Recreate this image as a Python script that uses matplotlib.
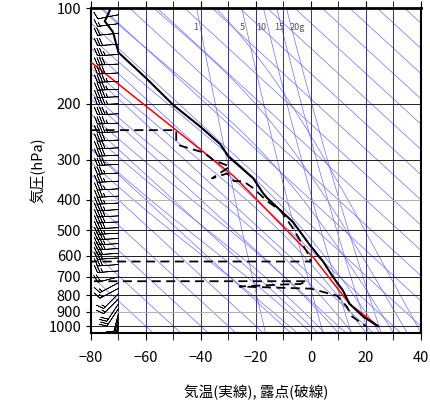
import numpy as np
import matplotlib
matplotlib.use("Agg")
from matplotlib import pyplot as plt

plt.rcParams['font.family'] = ['Noto Sans CJK JP', 'DejaVu Sans']

# temperature profile (solid)
temp_p = [101, 110, 119, 138, 166, 202, 237, 268, 293, 343, 381, 395, 471, 556, 626, 700, 772, 850, 933, 1000]
temp_t = [-73, -75, -72, -70, -60, -50, -40, -33, -30, -21, -17.5, -16, -6.5, -0.4, 4.4, 8, 11.6, 14, 19, 24.4]

# dew point profile (dashed), -80 marks missing values
dew_p = [242, 242, 260, 270, 283, 289, 300, 315, 343, 331, 350, 350, 368, 404, 434, 493, 583, 626, 626,
         722, 722, 737, 737, 750, 762, 802, 867, 933, 1000]
dew_t = [-80, -49, -49, -48, -40, -38, -35.6, -29.5, -36, -30.5, -28, -24.7, -21, -16, -11, -6.5, -1.5, 0, -80,
         -80, -1.5, -4, -6.5, -26, 0, 9.5, 13, 15, 20]

# parcel path (red)
parcel_p = [1000, 850, 610, 338, 148]
parcel_t = [24.5, 14, 1, -28, -80]

# winds (knots, mostly westerly)
wind_p = [105, 112, 120, 130, 140, 150, 160, 170, 180, 190, 200, 215, 230, 245, 260, 275, 290, 310, 330,
          350, 370, 390, 410, 430, 450, 470, 490, 510, 530, 550, 570, 590, 610, 640, 670, 700, 730, 760,
          790, 820, 850, 880, 910, 940, 970, 1000]
wind_u = [10, 15, 20, 30, 35, 40, 40, 45, 45, 45, 45, 45, 45, 45, 40, 40, 40, 40, 35,
          35, 35, 35, 35, 35, 40, 40, 40, 35, 35, 35, 35, 30, 30, 30, 25, 20, 15, 15,
          10, 10, 10, 10, 5, 5, 5, 5]
wind_v = [2, 2, 2, 2, 2, 2, 2, 2, 2, 2, 2, 2, 2, 2, 2, 2, 2, 2, 2,
          2, 2, 2, 2, 2, 2, 2, 2, 2, 2, 2, 2, 2, 2, 2, 2, 5, 8, 8,
          10, 10, 15, 15, 20, 20, 25, 25]

mix_ratios = [1, 5, 10, 15, 20]

fig = plt.figure(figsize=(4.31, 4.08), dpi=100)
ax = fig.add_axes([91 / 431, 1 - 333 / 408, 330 / 431, 325 / 408])
ax.set_yscale('log')
ax.set_xlim(-80, 40)
ax.set_ylim(1050, 100)

pp = np.linspace(100, 1050, 200)
line_col = '#6e6eff'

# dry adiabats (straight on this chart)
for t0 in range(-60, 170, 10):
    t = t0 - 126 * np.log10(1000 / pp)
    ax.plot(t, pp, color=line_col, lw=0.5, zorder=1)


# moist adiabats
def es(tc):
    return 6.112 * np.exp(17.67 * tc / (tc + 243.5))


def moist_lapse(t0):
    ps = np.linspace(1050, 100, 300)
    ts = [t0]
    for i in range(1, len(ps)):
        tc = ts[-1]
        tk = tc + 273.15
        p = ps[i - 1]
        rs = 0.622 * es(tc) / (p - es(tc))
        dtdp = (287 * tk + 2.5e6 * rs) / (1004 + 2.5e6 ** 2 * rs * 0.622 / (287 * tk ** 2)) / p
        ts.append(tc + dtdp * (ps[i] - p))
    return np.array(ts), ps


for t0 in range(-5, 45, 5):
    ts, ps = moist_lapse(t0)
    ax.plot(ts, ps, color=line_col, lw=0.5, zorder=1)

# mixing ratio lines
for w in mix_ratios:
    e = w * pp / (622 + w)
    lne = np.log(e / 6.112)
    td = 243.5 * lne / (17.67 - lne)
    ax.plot(td, pp, color=line_col, lw=0.5, zorder=1)
mx_lab = ['1', '5', '10', '15', '20g']
mx_x = [-42, -25, -18, -11.5, -5]
for x, lab in zip(mx_x, mx_lab):
    ax.text(x, 115, lab, fontsize=6.5, color='#555555', ha='center', va='center', zorder=2)

# grid
for x in range(-70, 40, 10):
    ax.axvline(x, color='#a0a0a0' if x == 10 else '#3030a0', lw=0.7, zorder=1)
for y in range(200, 1001, 100):
    ax.axhline(y, color='#b0b0b0' if y in (400, 900) else '#202020', lw=0.7, zorder=1)

ax.plot(parcel_t, parcel_p, color='red', lw=1.1, zorder=3)
ax.plot(temp_t, temp_p, color='black', lw=1.5, zorder=4)
ax.plot(dew_t, dew_p, color='black', lw=1.3, ls=(0, (5, 3)), zorder=4)

ax.barbs(np.full(len(wind_p), -70), wind_p, wind_u, wind_v, length=5.5, lw=0.5,
         color='black', zorder=5, sizes=dict(height=0.35, spacing=0.12))

for s in ax.spines.values():
    s.set_linewidth(1.5)
ax.spines['top'].set_linewidth(2)

yt = [100, 200, 300, 400, 500, 600, 700, 800, 900, 1000]
ax.set_yticks(yt)
ax.set_yticklabels([str(v) for v in yt])
ax.yaxis.set_minor_locator(matplotlib.ticker.NullLocator())
ax.set_xticks(range(-80, 41, 20))
ax.set_xticks(range(-80, 41, 10), minor=True)
ax.tick_params(axis='both', which='both', direction='out', labelsize=10.5)
ax.tick_params(axis='x', which='both', top=True, length=5)
ax.tick_params(axis='x', which='major', pad=8)
ax.set_ylabel('気圧(hPa)', fontsize=10.5, labelpad=2)
ax.set_xlabel('気温(実線), 露点(破線)', fontsize=10.5, labelpad=14)

fig.savefig('out.png')
